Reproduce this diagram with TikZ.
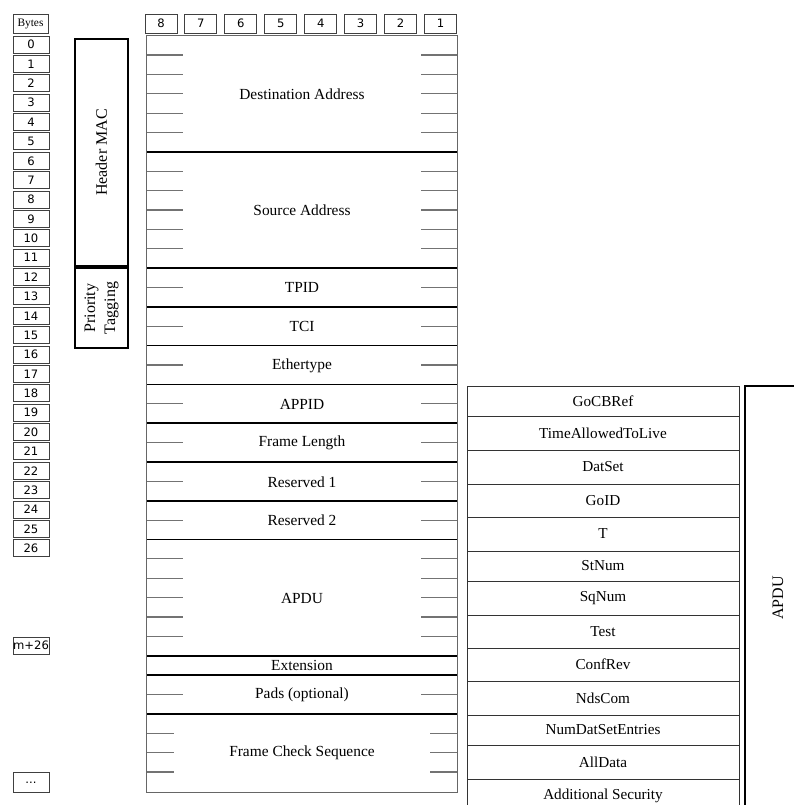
\documentclass[tikz,border=0pt]{standalone}
\usepackage{fontspec}
\setmainfont{Liberation Serif}
\newfontfamily\dejavusans{DejaVu Sans}

\begin{document}
\begin{tikzpicture}[
    x=0.5pt, y=-0.5pt,
    numbox/.style={draw=black!75, line width=0.5pt, inner sep=0pt, minimum width=18pt, minimum height=8.5pt, font=\dejavusans\fontsize{5.8}{7}\selectfont},
    field/.style={inner sep=0pt, minimum width=155pt, font=\fontsize{7.7}{9}\selectfont},
    sepline/.style={line width=0.8pt},
    frameline/.style={draw=black!60, line width=0.7pt},
    tickline/.style={black!55, line width=0.6pt},
    group/.style={draw, line width=0.9pt, rotate=90, minimum height=26.5pt, inner sep=0pt, align=center, font=\fontsize{8}{10}\selectfont},
    apdurow/.style={draw=black!80, line width=0.5pt, minimum width=136pt, inner sep=0pt, font=\fontsize{7.6}{9}\selectfont}
]
\useasboundingbox (0,0) rectangle (794,805);
\clip (0,0) rectangle (794,805);

% byte and bit counters
\node[numbox, font=\fontsize{5.7}{7}\selectfont, minimum width=17.5pt, minimum height=9.5pt] (bytes) at (30.5,23.5) {Bytes};
\foreach \k in {0,...,26}
  \node[numbox] (byte\k) at (31,{44.5+\k*19.38}) {\k};
\node[numbox] (bytem) at (31,645.5) {m+26};
\node[numbox, minimum height=10pt] (bytedots) at (31,782) {\raisebox{-1.2pt}{...}};
\foreach \b in {8,...,1}
  \node[numbox, minimum width=16pt, minimum height=9.5pt] (bit\b) at ({161+(8-\b)*39.93},23.5) {\b};

% header groups
\node[group, minimum width=113.5pt] (hdrmac) at (101.5,152.5) {Header MAC};
\node[group, minimum width=40pt] (prio) at (101.5,308) {Priority\\Tagging};

% frame fields
\foreach \nm/\a/\b/\txt in {dst/0/6/Destination Address, src/6/12/Source Address, tpid/12/14/TPID, tci/14/16/TCI, eth/16/18/Ethertype, appid/18/20/APPID, flen/20/22/Frame Length, resa/22/24/Reserved 1, resb/24/26/Reserved 2, apdu/26/32/APDU, ext/32/33/Extension, pads/33/35/Pads (optional), fcs/35/39/Frame Check Sequence}
  \node[field, minimum height={(\b-\a)*9.69pt}] (\nm) at (302,{36+(\a+\b)*9.69}) {\txt};

\foreach \nm/\n/\len in {dst/6/36, src/6/36, tpid/2/36, tci/2/36, eth/2/36, appid/2/36, flen/2/36, resa/2/36, resb/2/36, apdu/6/36, pads/2/36, fcs/4/27}{
  \pgfmathtruncatemacro\last{\n-1}
  \foreach \i in {1,...,\last}{
    \draw[tickline] (\nm.north west) ++(0,{\i*19.38}) -- ++(\len,0);
    \draw[tickline] (\nm.north east) ++(0,{\i*19.38}) -- ++(-\len,0);
  }
}
\foreach \nm in {src,tpid,tci,eth,appid,flen,resa,resb,apdu,ext,pads,fcs}
  \draw[sepline] (\nm.north west) -- (\nm.north east);
\draw[frameline] (dst.north west) rectangle (fcs.south east);

% APDU contents
\foreach \nm/\top/\bot/\txt in {gocb/386/416/GoCBRef, tatl/416/450/TimeAllowedToLive, dset/450/484/DatSet, goid/484/517/GoID, tstamp/517/551/T, stnum/551/581/StNum, sqnum/581/615/SqNum, test/615/648/Test, confrev/648/681/ConfRev, ndscom/681/715/NdsCom, nument/715/745/NumDatSetEntries, alldata/745/779/AllData, addsec/779/812/Additional Security}
  \node[apdurow, minimum height={(\bot-\top)*0.5pt}] (\nm) at (603,{(\top+\bot)/2}) {\txt};
\node[group, line width=1.3pt, minimum width=212pt, minimum height=33pt] (apdugrp) at (778,598) {APDU};
\end{tikzpicture}
\end{document}
